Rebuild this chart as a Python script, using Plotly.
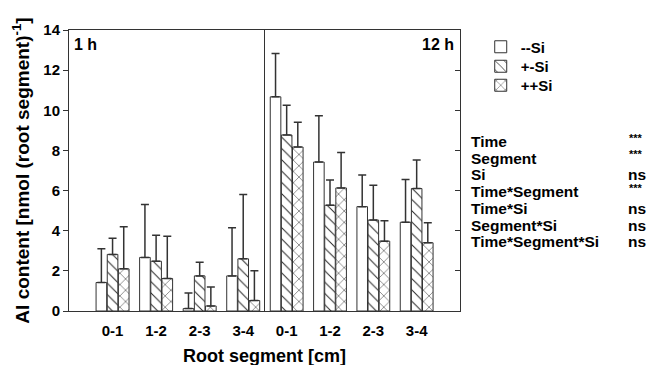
import plotly.graph_objects as go

segments = ["0-1", "1-2", "2-3", "3-4"]
series_names = ["--Si", "+-Si", "++Si"]

# 1 h
mean_1h_mm = [1.42, 2.67, 0.12, 1.75]
sd_1h_mm = [1.68, 2.63, 0.78, 2.40]
mean_1h_pm = [2.82, 2.48, 1.75, 2.60]
sd_1h_pm = [0.80, 1.29, 0.68, 3.20]
mean_1h_pp = [2.10, 1.62, 0.25, 0.52]
sd_1h_pp = [2.10, 2.10, 0.95, 1.48]

# 12 h
mean_12h_mm = [10.67, 7.42, 5.20, 4.42]
sd_12h_mm = [2.16, 2.31, 1.58, 2.13]
mean_12h_pm = [8.77, 5.27, 4.53, 6.10]
sd_12h_pm = [1.48, 1.26, 1.74, 1.42]
mean_12h_pp = [8.17, 6.13, 3.48, 3.40]
sd_12h_pp = [1.23, 1.77, 1.02, 1.00]

effects = ["Time", "Segment", "Si", "Time*Segment", "Time*Si", "Segment*Si", "Time*Segment*Si"]
signif = ["***", "***", "ns", "***", "ns", "ns", "ns"]

y_ticks = [0, 2, 4, 6, 8, 10, 12, 14]

FONT = "Liberation Sans, Arial, sans-serif"
LINE = "#333333"

patterns = ["", "\\", "x"]
legend_ids = ["legend", "legend2", "legend3"]

fig = go.Figure()

panels = [
    ("x", "y", [mean_1h_mm, mean_1h_pm, mean_1h_pp], [sd_1h_mm, sd_1h_pm, sd_1h_pp], True),
    ("x2", "y2", [mean_12h_mm, mean_12h_pm, mean_12h_pp], [sd_12h_mm, sd_12h_pm, sd_12h_pp], False),
]
for xa, ya, means, sds, show in panels:
    for i, name in enumerate(series_names):
        fig.add_trace(go.Bar(
            x=segments, y=means[i], name=name, legendgroup=name, showlegend=show,
            legend=legend_ids[i],
            xaxis=xa, yaxis=ya,
            marker=dict(color="white", line=dict(color=LINE, width=1),
                        pattern=dict(shape=patterns[i], fgcolor="#222222", bgcolor="white",
                                     size=8, solidity=0.12)),
            error_y=dict(visible=True, type="data", symmetric=False, array=sds[i],
                         arrayminus=[0.0] * len(sds[i]),
                         color="#333333", thickness=1.5, width=4),
        ))

L, R, T, B = 69, 187, 30, 54
W, H = 647, 365
plot_w = W - L - R
plot_h = H - T - B
split = (265 - L) / plot_w

axis_common = dict(showline=True, linecolor=LINE, linewidth=1,
                   showgrid=False, zeroline=False, automargin=False)

legend_common = dict(xanchor="left", yanchor="top", font=dict(size=15, weight="bold"),
                     bgcolor="rgba(0,0,0,0)", itemwidth=30, x=1.053)

fig.update_layout(
    template="none",
    width=W, height=H,
    margin=dict(l=L, r=R, t=T, b=B, autoexpand=False),
    paper_bgcolor="white", plot_bgcolor="white",
    barmode="group", bargap=0.23, bargroupgap=0.05,
    font=dict(family=FONT, size=15, color="black", weight="bold"),
    xaxis=dict(domain=[0, split], range=[-1.0, 3.5], ticks="", ticklabelstandoff=6, mirror=True,
               tickfont=dict(size=15, weight="bold"), anchor="y", **axis_common),
    xaxis2=dict(domain=[split, 1], range=[-0.5, 4.0], ticks="", ticklabelstandoff=6, mirror=True,
                tickfont=dict(size=15, weight="bold"), anchor="y2", **axis_common),
    yaxis=dict(range=[0, 14], tickvals=y_ticks, ticks="outside", ticklen=5, tickcolor=LINE,
               tickfont=dict(size=15, weight="bold"), anchor="x", mirror=False,
               title=dict(text="Al content [nmol (root segment)<sup>-1</sup>]",
                          font=dict(size=19, weight="bold"), standoff=8),
               **axis_common),
    yaxis2=dict(range=[0, 14], tickvals=y_ticks, ticks="inside", ticklen=5, tickcolor=LINE,
                showticklabels=False, side="right", anchor="x2", mirror=True, **axis_common),
    legend=dict(y=(H - B - 30.5) / plot_h, **legend_common),
    legend2=dict(y=(H - B - 50) / plot_h, **legend_common),
    legend3=dict(y=(H - B - 69) / plot_h, **legend_common),
)

fig.add_annotation(text="Root segment [cm]", xref="paper", yref="paper", x=0.5, y=0,
                   yshift=-45, yanchor="middle", showarrow=False,
                   font=dict(size=18, weight="bold"))

fig.add_annotation(text="1 h", xref="x domain", yref="y domain", x=0, y=1, xshift=3, yshift=-4,
                   xanchor="left", yanchor="top", showarrow=False, font=dict(size=16, weight="bold"))
fig.add_annotation(text="12 h", xref="x2 domain", yref="y2 domain", x=1, y=1, xshift=-4, yshift=-4,
                   xanchor="right", yanchor="top", showarrow=False, font=dict(size=16, weight="bold"))

row_y0 = 141.5
row_dy = 16.7
for k, (eff, sig) in enumerate(zip(effects, signif)):
    ypix = row_y0 + k * row_dy
    yp = (H - B - ypix) / plot_h
    fig.add_annotation(text=eff, xref="paper", yref="paper", x=(469 - L) / plot_w, y=yp,
                       xanchor="left", yanchor="middle", showarrow=False,
                       font=dict(size=15.5, weight="bold"))
    if sig == "***":
        fig.add_annotation(text=sig, xref="paper", yref="paper", x=(627 - L) / plot_w, y=yp,
                           yshift=4, xanchor="left", yanchor="middle", showarrow=False,
                           font=dict(size=11, weight="bold"))
    else:
        fig.add_annotation(text=sig, xref="paper", yref="paper", x=(626 - L) / plot_w, y=yp,
                           xanchor="left", yanchor="middle", showarrow=False,
                           font=dict(size=15.5, weight="bold"))

fig.write_html("out.html", config={"displayModeBar": False},
               post_script="document.body.style.margin='0px';")
